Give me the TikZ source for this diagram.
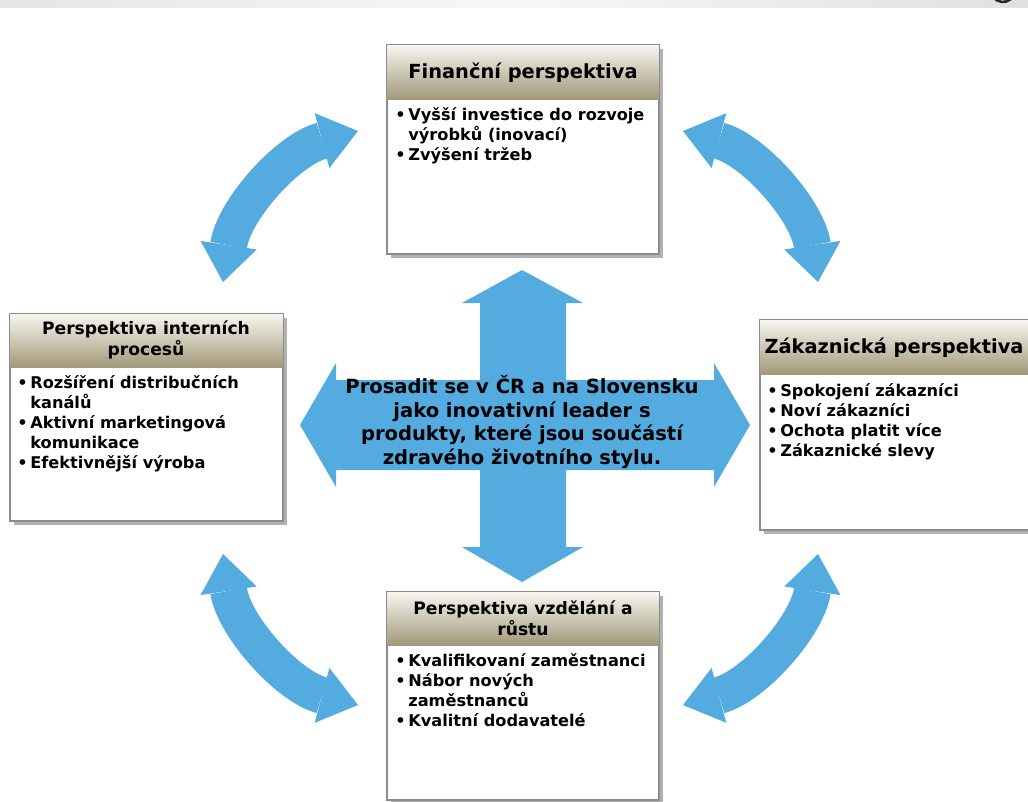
\documentclass[tikz,border=0pt]{standalone}
\usepackage{fontspec}
\setmainfont{DejaVu Sans}
\usetikzlibrary{arrows.meta,shadows,fit,calc}

\definecolor{flowblue}{RGB}{84,171,224}
\definecolor{headtop}{RGB}{248,247,241}
\definecolor{headbot}{RGB}{162,152,121}
\definecolor{frame}{RGB}{140,140,140}

% bullet and continuation indent for the item lists
\newcommand{\itembul}{\makebox[9.3pt][l]{\textbullet}}
\newcommand{\itemcont}{\hspace*{9.3pt}}

\tikzset{
  panel/.style={draw=frame, line width=0.9pt, fill=white, inner sep=0pt,
    drop shadow={shadow xshift=2.5pt, shadow yshift=-2.5pt, fill=black, opacity=0.3}},
  outline/.style={draw=frame, line width=0.9pt},
  headband/.style={top color=headtop, bottom color=headbot},
  headbig/.style={font=\fontsize{13.8}{16}\selectfont\bfseries, align=center, inner sep=0pt},
  headsmall/.style={font=\fontsize{12.2}{15}\selectfont\bfseries, align=center, inner sep=0pt},
  % anchored at the baseline of the last line of the list
  items/.style={font=\fontsize{11.5}{14.2}\selectfont\bfseries, align=left, anchor=base west, inner sep=0pt},
  goaltext/.style={font=\fontsize{13.9}{17}\selectfont\bfseries, align=center, inner sep=0pt},
  cyclearrow/.style={draw=flowblue, line width=0.925cm,
    arrows={Triangle[width=1.42cm,length=0.93cm,line width=0pt]-Triangle[width=1.42cm,length=0.93cm,line width=0pt]}},
}

\begin{document}
\begin{tikzpicture}[x=0.025cm,y=-0.025cm]
\useasboundingbox (0,0) rectangle (1028,802);

% window strip at the top
\shade[left color=black!10, right color=black!12, middle color=black!3] (0,0) rectangle (1028,7);
\draw[line width=1.8pt, black!85] (1013.4,-4) arc[start angle=30, end angle=150, radius=12];

% central cross arrow
\fill[flowblue] (522,270) -- (583,303) -- (566,303) -- (566,380) -- (714,380) -- (714,363)
  -- (750,425) -- (714,487) -- (714,470) -- (566,470) -- (566,547) -- (583,547)
  -- (522,582) -- (462,547) -- (480,547) -- (480,470) -- (336,470) -- (336,487)
  -- (300,425) -- (336,363) -- (336,380) -- (480,380) -- (480,303) -- (462,303) -- cycle;
\node[goaltext] (goal) at (522,422) {Prosadit se v ČR a na Slovensku\\jako inovativní leader s\\produkty, které jsou součástí\\zdravého životního stylu.};

% panels
\node[panel, fit={(387,45) (659,254)}] (fin) {};
\node[panel, fit={(10,314) (283,521)}] (int) {};
\node[panel, fit={(760,320) (1031,530)}] (cus) {};
\node[panel, fit={(387,592) (659,800)}] (edu) {};

\path[headband] (fin.north west) rectangle ($(fin.north east)+(0,55)$);
\path[headband] (int.north west) rectangle ($(int.north east)+(0,54)$);
\path[headband] (cus.north west) rectangle ($(cus.north east)+(0,55)$);
\path[headband] (edu.north west) rectangle ($(edu.north east)+(0,54)$);

\draw[outline] (fin.north west) rectangle (fin.south east);
\draw[outline] (int.north west) rectangle (int.south east);
\draw[outline] (cus.north west) rectangle (cus.south east);
\draw[outline] (edu.north west) rectangle (edu.south east);

% panel titles
\node[headbig] (finT) at (523,73) {Finanční perspektiva};
\node[headsmall] (intT) at (146,340) {Perspektiva interních\\procesů};
\node[headbig] (cusT) at (894,348) {Zákaznická perspektiva};
\node[headsmall] (eduT) at (523,618) {Perspektiva vzdělání a\\růstu};

% panel items
\node[items] (finL) at (395,160) {\itembul Vyšší investice do rozvoje\\\itemcont výrobků (inovací)\\\itembul Zvýšení tržeb};
\node[items] (intL) at (17,468) {\itembul Rozšíření distribučních\\\itemcont kanálů\\\itembul Aktivní marketingová\\\itemcont komunikace\\\itembul Efektivnější výroba};
\node[items] (cusL) at (767,456) {\itembul Spokojení zákazníci\\\itembul Noví zákazníci\\\itembul Ochota platit více\\\itembul Zákaznické slevy};
\node[items] (eduL) at (395,726) {\itembul Kvalifikovaní zaměstnanci\\\itembul Nábor nových\\\itemcont zaměstnanců\\\itembul Kvalitní dodavatelé};

% end points and control points of the curved double arrows
\coordinate (tlA) at (223,282); \coordinate (tlC) at (234,210); \coordinate (tlD) at (287,150); \coordinate (tlB) at (358,131);
\coordinate (trA) at (818,282); \coordinate (trC) at (807,210); \coordinate (trD) at (754,150); \coordinate (trB) at (683,131);
\coordinate (blA) at (223,554); \coordinate (blC) at (234,626); \coordinate (blD) at (287,686); \coordinate (blB) at (358,705);
\coordinate (brA) at (818,554); \coordinate (brC) at (807,626); \coordinate (brD) at (754,686); \coordinate (brB) at (683,705);

\draw[cyclearrow] (tlA) .. controls (tlC) and (tlD) .. (tlB);
\draw[cyclearrow] (trA) .. controls (trC) and (trD) .. (trB);
\draw[cyclearrow] (blA) .. controls (blC) and (blD) .. (blB);
\draw[cyclearrow] (brA) .. controls (brC) and (brD) .. (brB);
\end{tikzpicture}
\end{document}
